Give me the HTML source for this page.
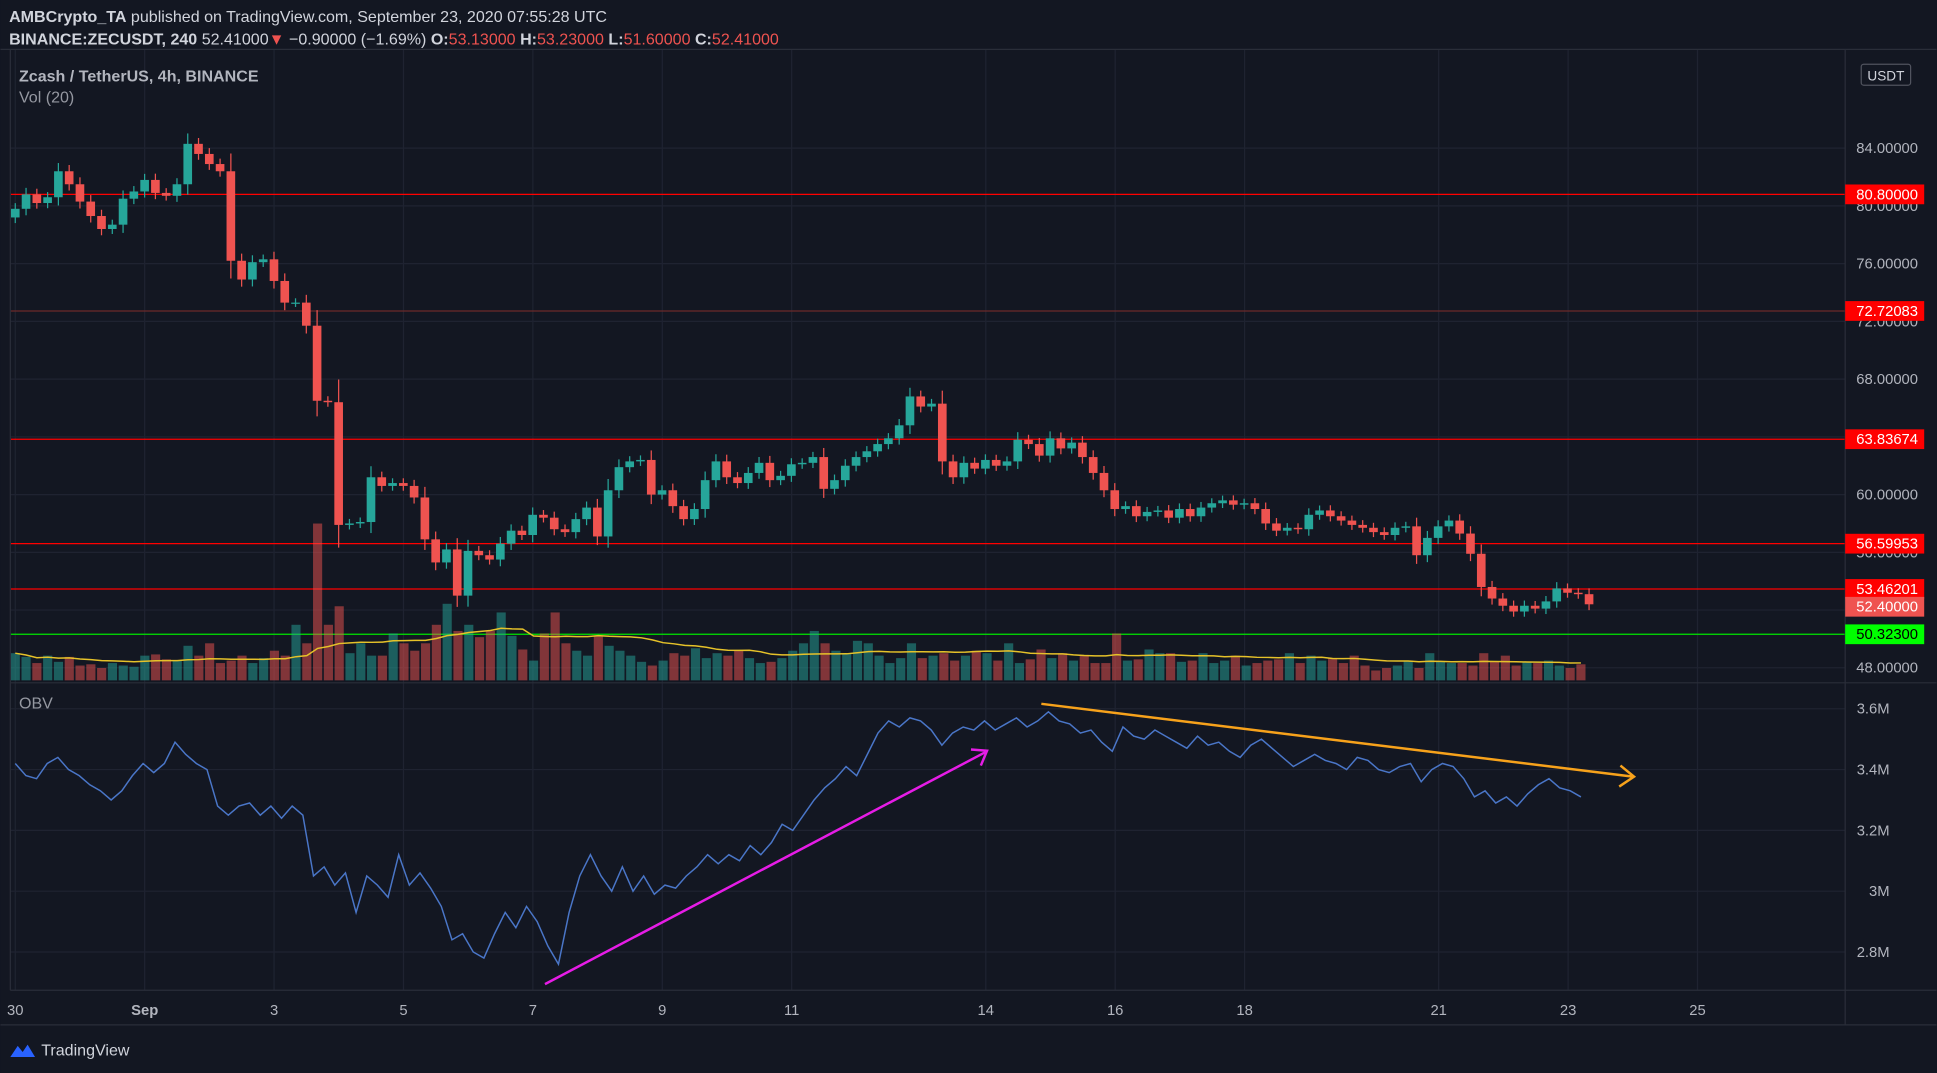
<!DOCTYPE html>
<html><head><meta charset="utf-8"><style>
html,body{margin:0;padding:0;background:#131722;}
svg{display:block;font-family:"Liberation Sans",sans-serif;}
</style></head><body>
<svg id="c" width="1937" height="1073" viewBox="0 0 1568 869" xmlns="http://www.w3.org/2000/svg">
<rect x="0" y="0" width="1568" height="869" fill="#131722"/>
<g id="grid"></g>
<g id="levels"></g>
<g id="vol"></g>
<g id="candles"></g>
<g id="obv"></g>
<g id="axes"></g>
<text x="7" y="18" font-size="13" fill="#d1d4dc"><tspan font-weight="bold">AMBCrypto_TA</tspan> published on TradingView.com, September 23, 2020 07:55:28 UTC</text>
<text x="7" y="36" font-size="13" fill="#d1d4dc"><tspan font-weight="bold">BINANCE:ZECUSDT, 240</tspan> 52.41000<tspan fill="#ef5350">▼</tspan> −0.90000 (−1.69%) <tspan font-weight="bold">O:</tspan><tspan fill="#ef5350">53.13000</tspan> <tspan font-weight="bold">H:</tspan><tspan fill="#ef5350">53.23000</tspan> <tspan font-weight="bold">L:</tspan><tspan fill="#ef5350">51.60000</tspan> <tspan font-weight="bold">C:</tspan><tspan fill="#ef5350">52.41000</tspan></text>
<text x="15" y="66" font-size="13" fill="#b2b5be" font-weight="bold">Zcash / TetherUS, 4h, BINANCE</text>
<text x="15" y="83" font-size="13" fill="#9598a1">Vol (20)</text>
<text x="15" y="574" font-size="13" fill="#9598a1">OBV</text>
<g>
<path d="M8 856 l6 -9 l4 5 l4 -6 l6 10 z" fill="#2962ff"/>
<text x="33" y="855" font-size="13" fill="#d1d4dc">TradingView</text>
</g>
</svg>
<script>
const closes=[79.8,80.8,80.2,80.6,82.4,81.5,80.3,79.3,78.4,78.7,80.5,81.0,81.8,80.9,80.7,81.5,84.3,83.6,82.9,82.4,76.2,74.9,76.1,76.3,74.8,73.3,73.3,71.7,66.5,66.4,57.9,58.0,58.1,61.2,60.6,60.8,60.6,59.8,56.9,55.3,56.2,53.0,56.1,55.8,55.5,56.6,57.5,57.2,58.6,58.4,57.6,57.4,58.3,59.1,57.1,60.3,61.9,62.3,62.4,60.0,60.3,59.2,58.3,59.0,61.0,62.3,61.2,60.8,61.5,62.2,61.0,61.3,62.1,62.2,62.6,60.4,61.0,62.0,62.6,63.0,63.5,63.9,64.8,66.8,66.1,66.3,62.3,61.2,62.2,61.8,62.4,62.0,62.3,63.8,63.5,62.7,63.9,63.2,63.6,62.6,61.5,60.3,59.0,59.2,58.5,58.8,58.9,58.4,59.0,58.5,59.1,59.4,59.6,59.3,59.4,59.0,58.0,57.5,57.7,57.6,58.6,58.9,58.5,58.2,57.9,57.7,57.4,57.2,57.7,57.8,55.8,57.0,57.8,58.2,57.3,55.9,53.6,52.8,52.3,51.9,52.3,52.1,52.6,53.5,53.2,53.1,52.4];
const vols=[22,19,14,20,15,19,12,13,10,14,12,11,20,21,17,16,28,20,30,14,16,20,14,18,24,20,45,30,127,45,60,22,30,20,20,38,30,24,30,45,62,40,45,35,40,55,36,25,16,38,55,30,24,20,36,28,24,20,15,12,16,22,20,26,18,22,20,24,18,14,15,18,24,30,40,30,24,22,32,30,20,14,18,30,18,20,22,16,20,24,22,16,30,14,17,25,18,22,16,20,14,14,38,16,17,25,22,22,15,16,22,14,16,20,12,14,16,17,22,14,20,16,18,14,20,12,8,10,12,16,10,22,15,14,14,12,22,15,20,12,15,14,16,12,10,13];
const obv=[3.42,3.38,3.37,3.42,3.44,3.40,3.38,3.35,3.33,3.30,3.33,3.38,3.42,3.39,3.42,3.49,3.45,3.42,3.40,3.28,3.25,3.28,3.29,3.25,3.28,3.24,3.28,3.25,3.05,3.08,3.02,3.06,2.93,3.05,3.02,2.98,3.12,3.02,3.06,3.01,2.95,2.84,2.86,2.80,2.78,2.86,2.93,2.88,2.95,2.90,2.82,2.76,2.93,3.05,3.12,3.05,3.00,3.08,3.00,3.05,2.99,3.02,3.01,3.05,3.08,3.12,3.09,3.12,3.10,3.15,3.12,3.16,3.22,3.20,3.25,3.30,3.34,3.37,3.41,3.38,3.45,3.52,3.56,3.54,3.57,3.56,3.53,3.48,3.52,3.54,3.53,3.56,3.53,3.55,3.57,3.54,3.56,3.59,3.56,3.55,3.52,3.53,3.49,3.46,3.54,3.51,3.50,3.53,3.51,3.49,3.47,3.51,3.48,3.49,3.46,3.44,3.48,3.50,3.47,3.44,3.41,3.43,3.45,3.43,3.42,3.40,3.44,3.43,3.40,3.39,3.41,3.42,3.36,3.40,3.42,3.41,3.37,3.31,3.33,3.29,3.31,3.28,3.32,3.35,3.37,3.34,3.33,3.31];
const priceTicks=[84,80,76,72,68,64,60,56,52,48];
const obvTicks=[3.6,3.4,3.2,3.0,2.8];
const obvTickLabels=["3.6M","3.4M","3.2M","3M","2.8M"];
const dayLabels=["30","Sep","3","5","7","9","11","14","16","18","21","23","25"];
const dayOffsets=[0,2,4,6,8,10,12,15,17,19,22,24,26];
const levelPrices=[80.8,72.72083,63.83674,56.59953,53.46201];
const levelLabels=["80.80000","72.72083","63.83674","56.59953","53.46201"];
const supportPrice=50.323;

const NS="http://www.w3.org/2000/svg";
function el(tag,attrs,parent){const e=document.createElementNS(NS,tag);for(const k in attrs)e.setAttribute(k,attrs[k]);parent.appendChild(e);return e;}
const yP=p=>120+(84-p)*11.69;
const yO=v=>574+(3.6-v)*246.25;
const xI=(i,n)=>12+i*(1268/(n-1));
const xC=i=>12+i*8.73;
const xDay=d=>12+d*52.4;
const L=1494;
const grid=document.getElementById('grid'),axes=document.getElementById('axes');
priceTicks.forEach(p=>{const g=el('line',{x1:8,x2:L,y1:yP(p),y2:yP(p),stroke:'#1f2331','stroke-width':1},grid);
 const t=el('text',{x:1553,y:yP(p)+4,'font-size':12,fill:'#b2b5be','text-anchor':'end'},axes);t.textContent=p.toFixed(5);});
obvTicks.forEach((v,i)=>{const g=el('line',{x1:8,x2:L,y1:yO(v),y2:yO(v),stroke:'#1f2331'},grid);
 const t=el('text',{x:1530,y:yO(v)+4,'font-size':12,fill:'#b2b5be','text-anchor':'end'},axes);t.textContent=obvTickLabels[i];});
dayLabels.forEach((d,i)=>{const x=xDay(dayOffsets[i]);const g=el('line',{x1:x,x2:x,y1:40,y2:802,stroke:'#1f2331'},grid);
 const t=el('text',{x:x,y:822,'font-size':12,fill:'#b2b5be','text-anchor':'middle','font-weight':d==='Sep'?'bold':'normal'},axes);t.textContent=d;});
[[0,40,1568,40],[8,40,8,802],[L,40,L,830],[8,553,1568,553],[8,802,1568,802],[0,830,1568,830]].forEach(a=>{const l=el('line',{x1:a[0],y1:a[1],x2:a[2],y2:a[3],stroke:'#2a2e39'},axes);});
const usd=el('rect',{x:1507,y:52,width:40,height:17,rx:2,fill:'#131722',stroke:'#50535e'},axes);
const ut=el('text',{x:1527,y:65,'font-size':11,fill:'#d1d4dc','text-anchor':'middle'},axes);ut.textContent='USDT';
const lv=document.getElementById('levels');
levelPrices.forEach((p,i)=>{const y=yP(p);const l=el('line',{x1:8,x2:L,y1:y,y2:y,stroke:i===1?'#6b2a2a':'#ff0000','stroke-width':1},lv);
 const r=el('rect',{x:1494,y:y-8,width:64,height:16,fill:'#ff0000'},axes);
 const t=el('text',{x:1553,y:y+4,'font-size':12,fill:'#fff','text-anchor':'end'},axes);t.textContent=levelLabels[i];});
{const y=yP(supportPrice);const l=el('line',{x1:8,x2:L,y1:y,y2:y,stroke:'#00e600'},lv);
 const r=el('rect',{x:1494,y:y-8,width:64,height:16,fill:'#00ff00'},axes);
 const t=el('text',{x:1553,y:y+4,'font-size':12,fill:'#000','text-anchor':'end'},axes);t.textContent='50.32300';}
{const c=closes[closes.length-1];const y=yP(c)+2;const r=el('rect',{x:1494,y:y-8,width:64,height:16,fill:'#ef5350'},axes);
 const t=el('text',{x:1553,y:y+4,'font-size':12,fill:'#fff','text-anchor':'end'},axes);t.textContent=c.toFixed(5);}
const vg=document.getElementById('vol');const nv=vols.length;
vols.forEach((v,i)=>{const ci=Math.min(i,closes.length-1);const up=ci===0||closes[ci]>=closes[ci-1];const x=xI(i,nv);
 const r=el('rect',{x:x-3.7,y:551-v,width:7.4,height:v,fill:up?'#26a69a':'#ef5350','fill-opacity':0.5},vg);});
let pts=[];vols.forEach((v,i)=>{const s=vols.slice(Math.max(0,i-19),i+1);const m=s.reduce((a,b)=>a+b,0)/s.length;pts.push(xI(i,nv)+','+(551-m));});
{const p=el('polyline',{points:pts.join(' '),fill:'none',stroke:'#e6c229','stroke-width':1.2},vg);}
const cg=document.getElementById('candles');
closes.forEach((c,i)=>{const o=i===0?79.2:closes[i-1];const up=c>=o;const col=up?'#26a69a':'#ef5350';const x=xC(i);
 const hi=Math.max(o,c)+0.3+Math.abs(c-o)*0.15,lo=Math.min(o,c)-0.3-Math.abs(c-o)*0.15;
 const w=el('line',{x1:x,x2:x,y1:yP(hi),y2:yP(lo),stroke:col},cg);
 const b=el('rect',{x:x-3.5,y:yP(Math.max(o,c)),width:7,height:Math.max(1,Math.abs(yP(o)-yP(c))),fill:col},cg);});
const og=document.getElementById('obv');const no=obv.length;
{const p=el('polyline',{points:obv.map((v,i)=>xI(i,no)+','+yO(v)).join(' '),fill:'none',stroke:'#4a76c8','stroke-width':1.2},og);}
{const a=el('line',{x1:441,y1:797,x2:798,y2:609,stroke:'#e61ce6','stroke-width':2},og);
 const h=el('polyline',{points:'786,607 799,608 794,620',fill:'none',stroke:'#e61ce6','stroke-width':2},og);
 const b=el('line',{x1:843,y1:570,x2:1322,y2:629,stroke:'#f7a21b','stroke-width':2},og);
 const bh=el('polyline',{points:'1312,620 1323,629 1311,637',fill:'none',stroke:'#f7a21b','stroke-width':2},og);}
</script>
</body></html>
